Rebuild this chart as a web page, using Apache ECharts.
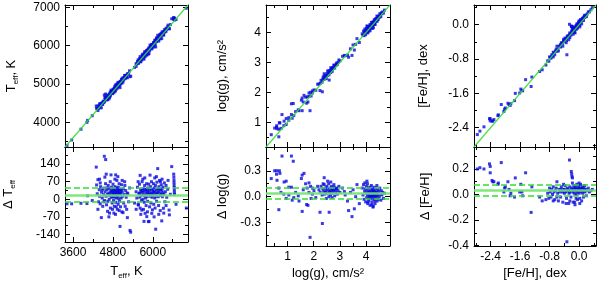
<!DOCTYPE html>
<html>
<head>
<meta charset="utf-8">
<script src="https://cdn.jsdelivr.net/npm/echarts@6/dist/echarts.min.js"></script>
<style>html,body{margin:0;padding:0;background:#fff}#c{width:600px;height:281px}</style>
</head>
<body>
<div id="c"></div>
<script>
// ---- data: [reference value, difference] ----
const teffPoints = [
[3420,-18],[3560,-18],[3840,-16],[4020,-17],[4040,14],[4180,-5],
[4300,128],[4310,57],[4330,22],[4350,78],[4370,-10],[4390,38],[4400,12],[4420,-18],[4430,50],[4453,-73],[4460,28],[4480,5],[4495,-28],[4510,44],[4520,18],[4543,171],[4583,158],[4550,-5],[4565,30],[4580,62],[4595,12],[4610,-22],[4620,38],[4635,20],[4650,-8],[4660,55],[4675,25],[4690,0],[4700,42],[4712,15],[4725,-35],[4735,30],[4744,97],[4752,8],[4760,48],[4770,22],[4780,-15],[4788,35],[4795,10],[4805,60],[4812,25],[4820,-5],[4828,40],[4835,18],[4842,-28],[4850,32],[4858,8],[4865,50],[4872,20],[4884,97],[4890,-12],[4898,28],[4905,45],[4912,5],[4920,75],[4928,22],[4935,-40],[4942,35],[4950,12],[4958,-20],[4965,48],[4972,25],[4980,2],[4988,62],[4995,30],[5002,-8],[5010,18],[5015,-108],[5022,40],[5030,-30],[5040,22],[5050,5],[5060,58],[5072,-50],[5080,30],[5090,12],[5105,-53],[5115,42],[5125,-15],[5140,20],[5155,70],[5170,-28],[5185,35],[5200,8],[5215,-40],[5236,-73],[5250,22],[5275,-10],[5300,45],[5316,-124],[5336,-131],
[4480,38],[4530,-10],[4600,45],[4700,18],[4760,32],[4815,12],[4845,22],[4875,35],[4915,28],[4945,15],[4975,38],[5005,25],[5045,35],[4790,-40],[4700,-55],[4880,-60],[4950,90],[4860,80],[4400,80],
[4350,-40],[4420,65],[4560,88],[4640,-48],[4720,70],[4830,-55],[4900,-30],[4990,-45],[5080,75],[5160,55],[5230,25],[4600,100],[4680,-70],
[5450,-15],[5500,30],[5520,5],[5540,48],[5560,-20],[5570,-23],[5580,22],[5600,60],[5610,8],[5620,-35],[5635,38],[5648,15],[5660,-5],[5670,-43],[5680,70],[5690,28],[5700,0],[5712,42],[5722,18],[5737,-88],[5745,-12],[5755,55],[5765,30],[5770,-56],[5780,5],[5790,38],[5800,-25],[5808,20],[5815,62],[5820,-69],[5828,10],[5838,32],[5846,-8],[5855,45],[5868,-89],[5875,18],[5888,-88],[5895,28],[5905,-30],[5918,96],[5925,12],[5935,50],[5945,-15],[5955,25],[5965,40],[5970,-56],[5980,8],[5990,-42],[6000,35],[6010,15],[6020,62],[6030,-20],[6040,28],[6050,45],[6060,5],[6070,-35],[6080,55],[6088,-119],[6095,20],[6105,38],[6115,-8],[6125,68],[6135,25],[6149,122],[6155,42],[6165,10],[6175,-25],[6185,50],[6195,30],[6205,75],[6215,15],[6225,-45],[6235,40],[6245,22],[6255,58],[6270,-86],[6280,35],[6290,10],[6305,48],[6320,-36],[6335,20],[6350,65],[6365,-10],[6380,30],[6400,55],[6420,8],[6450,40],[6490,-43],[6500,-62],[6530,20],[6570,130],
[5600,25],[5650,30],[5700,35],[5750,15],[5800,40],[5850,25],[5900,38],[5950,20],[6000,22],[6050,30],[6100,12],[6150,28],[6200,40],[6250,18],[6300,25],[5880,60],[5720,-40],[6180,-60],[6060,85],[6280,80],[5760,85],
[5560,70],[5640,-60],[5700,80],[5840,-50],[5960,70],[6040,-70],[6110,90],[6230,70],[6330,-55],[6400,-25],[6460,75],[5500,-40],[5620,95],
[6630,100],[6635,88],[6638,76],[6640,66],[6642,56],[6645,47],[6648,38],[6650,28],[6652,20],
[6700,-20],[7010,-35]
];
const loggPoints = [
[0.38,0.21],[0.51,0.30],[0.59,0.30],[0.69,0.30],[0.58,0.26],[0.71,0.27],[0.60,0.19],[0.79,0.47],[0.87,0.17],[0.95,0.18],[0.67,0.10],[1.05,0.11],[1.15,0.11],[0.67,-0.15],[1.15,0.47],[1.22,0.41],[0.86,0.03],[1.05,0.02],[1.24,-0.01],[1.31,0.05],[1.41,0.01],[1.18,-0.04],[1.44,-0.05],[0.75,0.05],[0.95,-0.02],
[1.56,0.25],[1.63,0.27],[1.53,0.21],[1.73,-0.09],[1.78,-0.10],[1.56,-0.17],[1.86,-0.47],[1.69,0.15],[1.82,0.16],[1.88,0.12],[1.95,0.10],[2.01,0.07],[1.82,0.05],[1.95,0.03],[2.08,-0.01],[1.60,0.08],[1.75,0.10],[1.90,-0.02],[2.15,0.12],[2.24,-0.18],[2.33,-0.31],[2.59,-0.18],[2.40,0.22],
[2.20,0.08],[2.25,0.05],[2.28,0.12],[2.32,0.02],[2.35,0.09],[2.38,0.06],[2.40,0.14],[2.42,0.03],[2.45,0.10],[2.47,0.07],[2.50,0.12],[2.52,0.04],[2.55,0.08],[2.57,0.15],[2.60,0.05],[2.62,0.10],[2.64,0.02],[2.66,0.07],[2.68,0.12],[2.70,0.04],[2.72,0.09],[2.75,0.06],[2.78,0.11],[2.80,0.01],[2.82,0.08],[2.85,0.05],[2.88,0.10],[2.90,0.03],[2.93,0.07],[2.96,0.12],[3.00,0.05],[2.48,-0.02],[2.58,0.00],[2.70,-0.01],[2.53,0.18],[2.65,0.17],[2.36,0.15],[2.77,0.14],[2.44,0.05],[2.62,0.06],[2.74,0.08],[2.86,0.09],
[3.10,0.10],[3.17,0.06],[3.29,-0.05],[3.33,-0.16],[3.46,-0.23],[3.55,-0.14],[3.65,0.14],[3.74,-0.08],[3.20,0.02],[3.40,0.05],[3.50,0.08],[3.60,0.00],
[3.85,0.10],[3.88,0.02],[3.90,0.14],[3.92,-0.03],[3.94,0.06],[3.96,0.09],[3.98,-0.06],[4.00,0.04],[4.01,0.12],[4.02,-0.01],[4.04,0.07],[4.05,0.15],[4.06,-0.08],[4.08,0.03],[4.09,0.10],[4.10,-0.04],[4.12,0.06],[4.13,0.01],[4.14,0.11],[4.15,-0.10],[4.16,0.04],[4.18,0.08],[4.19,-0.02],[4.20,0.13],[4.21,0.05],[4.22,-0.06],[4.24,0.02],[4.25,0.09],[4.26,-0.12],[4.27,0.04],[4.28,0.07],[4.30,-0.03],[4.31,0.11],[4.32,0.01],[4.33,0.06],[4.34,-0.08],[4.35,0.03],[4.37,0.09],[4.38,-0.01],[4.40,0.05],[4.41,0.13],[4.42,-0.05],[4.44,0.02],[4.45,0.08],[4.46,-0.03],[4.48,0.06],[4.50,0.00],[4.52,0.10],[4.54,0.03],[4.56,-0.04],[4.58,0.07],[4.60,0.02],[4.63,0.05],[4.66,-0.02],[4.70,0.04],
[4.05,0.02],[4.10,0.05],[4.15,0.00],[4.20,0.03],[4.25,0.06],[4.30,0.02],[4.35,0.05],[4.40,0.01],[4.45,0.04],[4.17,0.02],[4.23,0.01],[4.28,0.00],[4.12,-0.02],[4.38,0.04],[4.08,-0.06],[4.33,-0.05],[4.22,-0.09],[4.27,-0.11],[3.95,0.16],[4.03,0.18]
];
const fehPoints = [
[-2.76,0.20],[-2.69,0.21],[-2.58,0.20],[-2.43,0.24],[-2.41,0.22],[-2.41,0.17],[-2.36,0.11],[-2.34,0.10],[-2.31,0.10],[-2.19,0.09],[-2.11,0.25],[-2.02,0.05],[-2.00,0.06],[-2.04,0.02],[-1.93,0.10],[-1.87,-0.01],[-1.85,0.01],[-1.73,0.13],[-1.61,0.02],[-1.55,0.02],[-1.58,0.08],[-1.53,-0.01],[-1.45,0.17],[-1.30,-0.14],[-1.28,0.06],[-1.07,-0.02],[-1.00,-0.05],[-1.75,-0.02],[-2.20,0.08],[-1.90,0.04],
[-0.85,0.01],[-0.82,-0.03],[-0.80,0.05],[-0.78,0.02],[-0.76,-0.02],[-0.74,0.04],[-0.72,0.00],[-0.70,0.06],[-0.68,0.02],[-0.66,-0.04],[-0.64,0.03],[-0.62,0.05],[-0.60,0.10],[-0.58,0.01],[-0.56,-0.05],[-0.54,0.04],[-0.52,0.02],[-0.50,-0.02],[-0.48,0.06],[-0.46,0.03],[-0.44,-0.06],[-0.42,0.04],[-0.40,0.01],[-0.38,0.07],[-0.36,0.02],[-0.34,-0.03],[-0.33,-0.37],[-0.32,0.05],[-0.30,0.03],[-0.28,-0.07],[-0.27,0.01],[-0.26,0.27],[-0.25,0.06],[-0.24,0.03],[-0.22,-0.02],[-0.21,0.18],[-0.20,0.16],[-0.19,0.14],[-0.19,0.05],[-0.18,0.13],[-0.17,0.02],[-0.16,-0.06],[-0.15,0.04],[-0.14,0.07],[-0.13,0.01],[-0.12,0.05],[-0.11,-0.08],[-0.10,0.03],[-0.09,0.06],[-0.08,0.00],[-0.07,0.04],[-0.06,0.08],[-0.05,0.02],[-0.04,-0.04],[-0.03,0.05],[-0.02,0.03],[-0.01,0.07],[0.00,0.01],[0.01,0.05],[0.02,-0.03],[0.03,0.04],[0.04,0.08],[0.05,0.02],[0.06,0.05],[0.07,-0.05],[0.08,0.03],[0.09,0.06],[0.10,0.01],[0.11,0.04],[0.12,-0.02],[0.13,0.05],[0.14,0.03],[0.15,0.07],[0.16,0.02],[0.18,0.04],[0.20,-0.01],[0.22,0.03],[0.25,0.05],[0.28,0.02],[0.32,0.03],[0.36,0.04],
[-0.50,0.04],[-0.40,0.04],[-0.30,0.04],[-0.20,0.04],[-0.10,0.04],[0.00,0.04],[0.10,0.03],[-0.45,0.02],[-0.35,0.03],[-0.25,0.02],[-0.15,0.03],[-0.05,0.03],[0.05,0.04],[0.15,0.04],[-0.60,-0.02],[-0.35,-0.07],[-0.25,-0.05],[-0.12,-0.06],[0.02,-0.07],[-0.08,-0.03],[-0.42,0.08],[-0.18,0.09],[0.00,0.09],[-0.70,-0.05],[-0.90,-0.04]
];
// mean and scatter of the differences (green lines)
const teffStats = [17, 27];
const loggStats = [0.042, 0.061];
const fehStats = [0.033, 0.048];
// axis ranges
const teffRange = [3360, 7060];
const loggRange = [0.18, 4.91];
const fehRange = [-2.85, 0.46];
const teffDiffRange = [-170, 208];
const loggDiffRange = [-0.57, 0.575];
const fehDiffRange = [-0.403, 0.372];
// tick values
const teffXTicks = [3600, 4800, 6000];
const teffXMinor = [4200, 5400, 6600];
const teffYTicks = [4000, 5000, 6000, 7000];
const teffYMinor = [3500, 4500, 5500, 6500];
const teffDiffTicks = [-140, -70, 0, 70, 140];
const teffDiffMinor = [-105, -35, 35, 105, 175];
const loggTicks = [1, 2, 3, 4];
const loggMinor = [0.5, 1.5, 2.5, 3.5, 4.5];
const loggDiffTicks = [-0.3, 0, 0.3];
const loggDiffMinor = [-0.45, -0.15, 0.15, 0.45];
const fehTicks = [-2.4, -1.6, -0.8, 0];
const fehMinor = [-2.8, -2.0, -1.2, -0.4, 0.4];
const fehDiffTicks = [-0.4, -0.2, 0, 0.2];
const fehDiffMinor = [-0.3, -0.1, 0.1, 0.3];

const BLUE = '#0a0ae0';
const GREEN = '#33dd33';
const FONT = 'Liberation Sans';

const grids = [
  {left:65, top:5, width:123, height:142},
  {left:65, top:147, width:123, height:100},
  {left:266, top:5, width:124, height:142},
  {left:266, top:147, width:124, height:100},
  {left:474, top:5, width:122, height:142},
  {left:474, top:147, width:122, height:100}
];

const nameStyle = {
  fontFamily: FONT, fontSize: 13, color: '#000',
  rich: {
    n: {fontFamily: FONT, fontSize: 13, color: '#000'},
    s: {fontFamily: FONT, fontSize: 8, color: '#000', padding: [9, 0, 0, 0]}
  }
};

const xAxis = [], yAxis = [];
function addAxes(list, grid, dim, range, majors, minors, labels, name, gap, fmt) {
  const idx = list.length;
  const positions = dim === 'x' ? ['bottom', 'top'] : ['left', 'right'];
  positions.forEach((pos, pi) => {
    ['major', 'minor'].forEach(kind => {
      const main = pi === 0 && kind === 'major';
      list.push({
        type: 'value', gridIndex: grid, position: pos, min: range[0], max: range[1],
        axisLine: {show: kind === 'major', onZero: false, lineStyle: {color: '#000', width: 1}},
        axisTick: {show: true, inside: true, length: kind === 'major' ? 5 : 3,
                   customValues: kind === 'major' ? majors : minors,
                   lineStyle: {color: '#000', width: 1}},
        axisLabel: {show: main && labels, customValues: majors, formatter: fmt,
                    color: '#000', fontSize: 12, fontFamily: FONT, margin: 5,
                    showMinLabel: true, showMaxLabel: true},
        splitLine: {show: false},
        minorTick: {show: false},
        name: main ? name : '', nameLocation: 'middle', nameGap: gap,
        nameTextStyle: nameStyle
      });
    });
  });
  return idx;
}
const fmtInt = v => String(Math.round(v));
const fmt1 = v => (Math.abs(v) < 1e-9 ? 0 : v).toFixed(1);

const panels = [
  {pts: teffPoints, stats: teffStats, range: teffRange, diffRange: teffDiffRange,
   xt: teffXTicks, xm: teffXMinor, yt: teffYTicks, ym: teffYMinor, dt: teffDiffTicks, dm: teffDiffMinor,
   xname: '{n|T}{s|eff}{n|, K}', yname: '{n|T}{s|eff}{n|, K}', dname: '{n|Δ T}{s|eff}',
   xfmt: fmtInt, yfmt: fmtInt, dfmt: fmtInt, ygap: 45, dgap: 48},
  {pts: loggPoints, stats: loggStats, range: loggRange, diffRange: loggDiffRange,
   xt: loggTicks, xm: loggMinor, yt: loggTicks, ym: loggMinor, dt: loggDiffTicks, dm: loggDiffMinor,
   xname: '{n|log(g), cm/s²}', yname: '{n|log(g), cm/s²}', dname: '{n|Δ log(g)}',
   xfmt: fmtInt, yfmt: fmtInt, dfmt: fmt1, ygap: 37, dgap: 37},
  {pts: fehPoints, stats: fehStats, range: fehRange, diffRange: fehDiffRange,
   xt: fehTicks, xm: fehMinor, yt: fehTicks, ym: fehMinor, dt: fehDiffTicks, dm: fehDiffMinor,
   xname: '{n|[Fe/H], dex}', yname: '{n|[Fe/H], dex}', dname: '{n|Δ [Fe/H]}',
   xfmt: fmt1, yfmt: fmt1, dfmt: fmt1, ygap: 44, dgap: 42}
];

const series = [];
panels.forEach((p, i) => {
  const gTop = 2 * i, gBot = 2 * i + 1;
  const xTop = addAxes(xAxis, gTop, 'x', p.range, p.xt, p.xm, false, '', 20, p.xfmt);
  const yTop = addAxes(yAxis, gTop, 'y', p.range, p.yt, p.ym, true, p.yname, p.ygap, p.yfmt);
  const xBot = addAxes(xAxis, gBot, 'x', p.range, p.xt, p.xm, true, p.xname, 21, p.xfmt);
  const yBot = addAxes(yAxis, gBot, 'y', p.diffRange, p.dt, p.dm, true, p.dname, p.dgap, p.dfmt);

  series.push({
    type: 'scatter', xAxisIndex: xTop, yAxisIndex: yTop, silent: true,
    symbol: 'rect', symbolSize: 3, itemStyle: {color: BLUE},
    data: p.pts.map(d => [d[0], d[0] + d[1]]), z: 2
  });
  series.push({
    type: 'line', xAxisIndex: xTop, yAxisIndex: yTop, silent: true, symbol: 'none',
    lineStyle: {color: GREEN, width: 1.2, opacity: 0.9},
    data: [[p.range[0], p.range[0]], [p.range[1], p.range[1]]], z: 3
  });
  series.push({
    type: 'scatter', xAxisIndex: xBot, yAxisIndex: yBot, silent: true,
    symbol: 'rect', symbolSize: 3, itemStyle: {color: BLUE},
    data: p.pts.map(d => [d[0], d[1]]), z: 2,
    markLine: {
      silent: true, symbol: 'none', label: {show: false}, z: 3,
      data: [
        {yAxis: p.stats[0], lineStyle: {color: '#6fe66f', width: 2.5, type: 'solid', opacity: 0.9}},
        {yAxis: p.stats[0] + p.stats[1], lineStyle: {color: GREEN, width: 1.5, type: [6, 3]}},
        {yAxis: p.stats[0] - p.stats[1], lineStyle: {color: GREEN, width: 1.5, type: [6, 3]}}
      ]
    }
  });
});

const chart = echarts.init(document.getElementById('c'), null, {renderer: 'canvas'});
chart.setOption({
  animation: false,
  backgroundColor: '#fff',
  grid: grids,
  xAxis: xAxis,
  yAxis: yAxis,
  series: series
});
</script>
</body>
</html>
